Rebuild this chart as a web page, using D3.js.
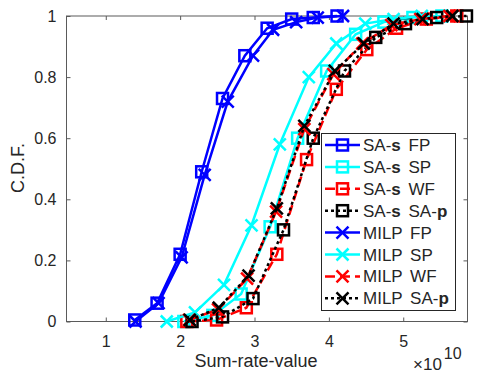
<!DOCTYPE html>
<html>
<head>
<meta charset="utf-8">
<script src="https://cdn.jsdelivr.net/npm/d3@7"></script>
<style>
  body { margin: 0; background: #fff; }
  text { font-family: "Liberation Sans", Arial, sans-serif; fill: #262626; }
</style>
</head>
<body>
<svg id="chart" width="477" height="373"></svg>
<script>
// values in units of 1e10
const saFP_x = [1.39, 1.69, 2.00, 2.29, 2.57, 2.87, 3.17, 3.50, 3.79, 4.11];
const saFP_y = [0.005, 0.06, 0.22, 0.49, 0.73, 0.87, 0.96, 0.99, 0.995, 1.0];
const saSP_x = [2.05, 2.44, 2.82, 3.21, 3.58, 3.97, 4.36, 4.74, 5.13, 5.52];
const saSP_y = [0, 0.02, 0.09, 0.31, 0.60, 0.82, 0.94, 0.98, 0.995, 1.0];
const saWF_x = [2.09, 2.49, 2.89, 3.30, 3.70, 4.10, 4.51, 4.91, 5.31, 5.72];
const saWF_y = [0, 0.005, 0.045, 0.22, 0.53, 0.76, 0.89, 0.96, 0.99, 1.0];
const saSAp_x = [2.16, 2.57, 2.98, 3.39, 3.79, 4.21, 4.63, 5.03, 5.45, 5.85];
const saSAp_y = [0, 0.015, 0.075, 0.30, 0.60, 0.82, 0.93, 0.975, 0.995, 1.0];
const milpFP_x = [1.40, 1.71, 2.02, 2.33, 2.64, 2.98, 3.25, 3.56, 3.85, 4.19];
const milpFP_y = [0, 0.06, 0.21, 0.48, 0.72, 0.87, 0.955, 0.98, 0.995, 1.0];
const milpSP_x = [1.82, 2.20, 2.59, 2.96, 3.34, 3.73, 4.10, 4.49, 4.87, 5.25];
const milpSP_y = [0, 0.03, 0.12, 0.315, 0.58, 0.80, 0.91, 0.975, 0.99, 1.0];
const milpWF_x = [2.12, 2.51, 2.90, 3.29, 3.67, 4.06, 4.45, 4.84, 5.23, 5.62];
const milpWF_y = [0.005, 0.04, 0.14, 0.36, 0.63, 0.81, 0.91, 0.97, 0.99, 1.0];
const milpSAp_x = [2.13, 2.52, 2.92, 3.30, 3.67, 4.08, 4.47, 4.87, 5.26, 5.66];
const milpSAp_y = [0.005, 0.045, 0.15, 0.37, 0.64, 0.82, 0.91, 0.975, 0.99, 1.0];

const xTicks = [1, 2, 3, 4, 5];
const yTicks = [0, 0.2, 0.4, 0.6, 0.8, 1];

const series = [
  { name: ['SA-', 's', ' FP'], xs: saFP_x, ys: saFP_y, color: '#0000ff', dash: null, marker: 'square' },
  { name: ['SA-', 's', ' SP'], xs: saSP_x, ys: saSP_y, color: '#00ffff', dash: null, marker: 'square' },
  { name: ['SA-', 's', ' WF'], xs: saWF_x, ys: saWF_y, color: '#ff0000', dash: '10,5', marker: 'square' },
  { name: ['SA-', 's', ' SA-', 'p'], xs: saSAp_x, ys: saSAp_y, color: '#000000', dash: '3,3', marker: 'square' },
  { name: ['MILP FP'], xs: milpFP_x, ys: milpFP_y, color: '#0000ff', dash: null, marker: 'x' },
  { name: ['MILP SP'], xs: milpSP_x, ys: milpSP_y, color: '#00ffff', dash: null, marker: 'x' },
  { name: ['MILP WF'], xs: milpWF_x, ys: milpWF_y, color: '#ff0000', dash: '10,5', marker: 'x' },
  { name: ['MILP SA-', 'p'], xs: milpSAp_x, ys: milpSAp_y, color: '#000000', dash: '3,3', marker: 'x' }
];

const L = 66.5, R = 467.5, T = 16, B = 321.5;
const svg = d3.select('#chart');
svg.append('rect').attr('width', 477).attr('height', 373).attr('fill', '#fff');

const x = d3.scaleLinear().domain([0.472, 5.864]).range([L, R]);
const y = d3.scaleLinear().domain([0, 1]).range([B, T]);

// axes box + inward ticks
const axisColor = '#5a5a5a';
svg.append('rect').attr('x', L).attr('y', T).attr('width', R - L).attr('height', B - T)
  .attr('fill', 'none').attr('stroke', axisColor).attr('stroke-width', 1);

const gx = svg.append('g').attr('transform', `translate(0,${B})`)
  .call(d3.axisBottom(x).tickValues(xTicks).tickSize(-4).tickPadding(14).tickFormat(d3.format('d')));
const gxt = svg.append('g').attr('transform', `translate(0,${T})`)
  .call(d3.axisTop(x).tickValues(xTicks).tickSize(-4).tickFormat(''));
const gy = svg.append('g').attr('transform', `translate(${L},0)`)
  .call(d3.axisLeft(y).tickValues(yTicks).tickSize(-4).tickPadding(10).tickFormat(d => d === 0 || d === 1 ? String(d) : d.toFixed(1)));
const gyr = svg.append('g').attr('transform', `translate(${R},0)`)
  .call(d3.axisRight(y).tickValues(yTicks).tickSize(-4).tickFormat(''));
[gx, gxt, gy, gyr].forEach(g => {
  g.select('.domain').remove();
  g.selectAll('line').attr('stroke', axisColor);
  g.selectAll('text').attr('font-size', 16).attr('fill', '#262626')
    .style('font-family', '"Liberation Sans", Arial, sans-serif');
});

// axis labels
svg.append('text').attr('x', 256).attr('y', 367).attr('text-anchor', 'middle')
  .attr('font-size', 18).text('Sum-rate-value');
svg.append('text').attr('transform', 'translate(24,168) rotate(-90)').attr('text-anchor', 'middle')
  .attr('font-size', 18).text('C.D.F.');
const ex = svg.append('text').attr('x', 413).attr('y', 370).attr('font-size', 17);
ex.append('tspan').text('\u00d710');
ex.append('tspan').attr('dx', 2).attr('dy', -11).attr('font-size', 16).text('10');

// marker drawing
function drawMarker(g, type, color, cx, cy) {
  if (type === 'square') {
    g.append('rect').attr('x', cx - 5.5).attr('y', cy - 5.5).attr('width', 11).attr('height', 11)
      .attr('fill', 'none').attr('stroke', color).attr('stroke-width', 2.5);
  } else {
    const s = 6;
    g.append('path').attr('d', `M${cx - s},${cy - s}L${cx + s},${cy + s}M${cx - s},${cy + s}L${cx + s},${cy - s}`)
      .attr('fill', 'none').attr('stroke', color).attr('stroke-width', 2.5);
  }
}

const line = d3.line().x(d => x(d[0])).y(d => y(d[1]));
const plot = svg.append('g');
series.forEach(s => {
  const pts = s.xs.map((v, i) => [v, s.ys[i]]);
  plot.append('path').attr('d', line(pts)).attr('fill', 'none')
    .attr('stroke', s.color).attr('stroke-width', 2.5)
    .attr('stroke-dasharray', s.dash);
  const mg = plot.append('g');
  pts.forEach(p => drawMarker(mg, s.marker, s.color, x(p[0]), y(p[1])));
});

// legend
const lg = svg.append('g');
lg.append('rect').attr('x', 321.5).attr('y', 133.5).attr('width', 134).attr('height', 177)
  .attr('fill', '#fff').attr('stroke', '#262626').attr('stroke-width', 1);
series.forEach((s, i) => {
  const cy = 145 + i * 21.9;
  lg.append('line').attr('x1', 325).attr('x2', 360).attr('y1', cy).attr('y2', cy)
    .attr('stroke', s.color).attr('stroke-width', 2.5).attr('stroke-dasharray', s.dash);
  drawMarker(lg, s.marker, s.color, 342.5, cy);
  const t = lg.append('text').attr('x', 363).attr('y', cy + 6).attr('font-size', 17)
    .attr('word-spacing', 3);
  s.name.forEach((part, j) => {
    t.append('tspan').attr('font-weight', (part === 's' || part === 'p') ? 'bold' : null).text(part);
  });
});
</script>
</body>
</html>
